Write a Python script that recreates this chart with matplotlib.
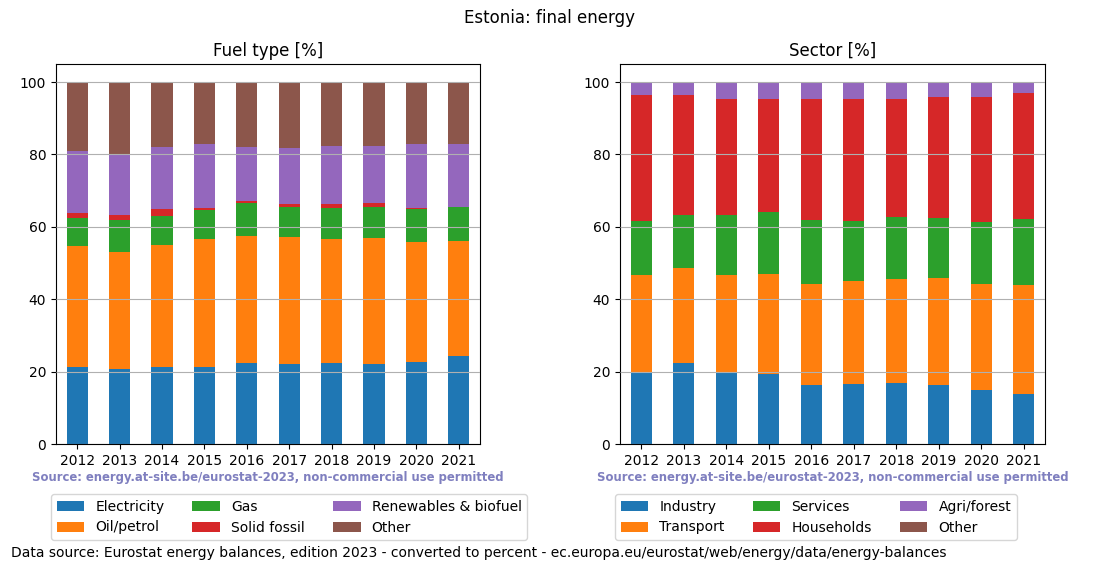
import matplotlib
matplotlib.use("Agg")
import matplotlib.pyplot as plt
import numpy as np

years = ["2012", "2013", "2014", "2015", "2016", "2017", "2018", "2019", "2020", "2021"]

fuel_labels = ["Electricity", "Oil/petrol", "Gas", "Solid fossil", "Renewables & biofuel", "Other"]
electricity = [21.3, 20.7, 21.3, 21.3, 22.4, 22.1, 22.4, 22.1, 22.7, 24.3]
oil_petrol = [33.4, 32.4, 33.7, 35.4, 35.1, 35.1, 34.3, 34.9, 33.2, 31.8]
gas = [7.8, 8.8, 8.0, 8.0, 9.1, 8.3, 8.6, 8.5, 9.1, 9.4]
solid_fossil = [1.4, 1.4, 2.0, 0.6, 0.6, 0.9, 1.1, 1.1, 0.3, 0.0]
renewables = [17.1, 16.8, 17.1, 17.6, 14.9, 15.4, 16.0, 15.8, 17.6, 17.4]
fuel_other = [19.0, 19.9, 17.9, 17.1, 17.9, 18.2, 17.6, 17.6, 17.1, 17.1]

sector_labels = ["Industry", "Transport", "Services", "Households", "Agri/forest", "Other"]
industry = [19.8, 22.4, 19.8, 19.4, 16.3, 16.6, 16.9, 16.3, 14.9, 13.8]
transport = [26.9, 26.3, 26.9, 27.6, 27.9, 28.5, 28.7, 29.6, 29.3, 30.2]
services = [15.0, 14.6, 16.6, 17.1, 17.7, 16.6, 17.2, 16.6, 17.2, 18.2]
households = [34.6, 33.0, 32.1, 31.3, 33.5, 33.7, 32.6, 33.4, 34.5, 34.7]
agri_forest = [3.7, 3.7, 4.6, 4.6, 4.6, 4.6, 4.3, 4.1, 4.1, 3.1]
sector_other = [0.0, 0.0, 0.0, 0.0, 0.0, 0.0, 0.3, 0.0, 0.0, 0.0]

colors = ["#1f77b4", "#ff7f0e", "#2ca02c", "#d62728", "#9467bd", "#8c564b"]

W, H = 1100, 572
fig = plt.figure(figsize=(11, 5.72), dpi=100)
fig.suptitle("Estonia: final energy", y=1 - 18/H, va="center", fontsize=12)

ax1 = fig.add_axes([56/W, 1 - 444/H, 424/W, 380/H])
ax2 = fig.add_axes([620/W, 1 - 444/H, 425/W, 380/H])

def stacked(ax, series, labels, title):
    x = np.arange(len(years))
    bottom = np.zeros(len(years))
    for s, lab, c in zip(series, labels, colors):
        ax.bar(x, s, 0.5, bottom=bottom, color=c, label=lab)
        bottom += np.array(s)
    ax.set_xticks(x)
    ax.set_xticklabels(years)
    ax.set_xlim(-0.5, len(years) - 0.5)
    ax.set_ylim(0, 105)
    ax.set_yticks([0, 20, 40, 60, 80, 100])
    ax.grid(axis="y", color="#b0b0b0")
    ax.set_axisbelow(False)
    ax.set_title(title, fontsize=12)
    ax.legend(loc="upper left", bbox_to_anchor=(-5/424, -50/380), borderaxespad=0,
              ncol=3, fontsize=10)
    ax.text(0.5, -33.7/380, "Source: energy.at-site.be/eurostat-2023, non-commercial use permitted",
            transform=ax.transAxes, ha="center", va="center", fontsize=8.35,
            fontweight="bold", color="#7f7fbf")

stacked(ax1, [electricity, oil_petrol, gas, solid_fossil, renewables, fuel_other], fuel_labels, "Fuel type [%]")
stacked(ax2, [industry, transport, services, households, agri_forest, sector_other], sector_labels, "Sector [%]")

fig.text(11/W, 1 - 553/H, "Data source: Eurostat energy balances, edition 2023 - converted to percent - ec.europa.eu/eurostat/web/energy/data/energy-balances",
         ha="left", va="center", fontsize=10)

fig.savefig("out.png", dpi=100)
